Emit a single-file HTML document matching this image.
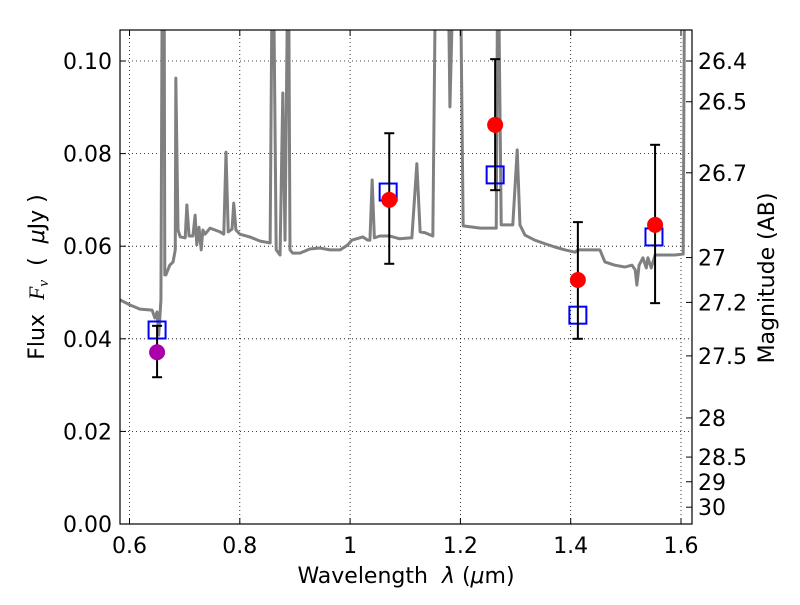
<!DOCTYPE html>
<html><head><meta charset="utf-8"><style>
body{margin:0;background:#fff}
svg text{font-family:"DejaVu Sans","Liberation Sans",sans-serif;fill:#000;white-space:pre}
</style></head><body>
<svg id="chart" width="800" height="600" viewBox="0 0 800 600">
<rect width="800" height="600" fill="#fff"/>
<g id="grid"></g>
<g id="spec"></g>
<g id="marks"></g>
<g id="axes"></g>
</svg>
<script>
const xTicks=[0.6,0.8,1.0,1.2,1.4,1.6];
const xTickLabels=["0.6","0.8","1","1.2","1.4","1.6"];
const yTicks=[0,0.02,0.04,0.06,0.08,0.10];
const yTickLabels=["0.00","0.02","0.04","0.06","0.08","0.10"];
const magTicks=[26.4,26.5,26.7,27,27.2,27.5,28,28.5,29,30];
const magLabels=["26.4","26.5","26.7","27","27.2","27.5","28","28.5","29","30"];
const specWave=[0.583,0.601,0.619,0.641,0.646,0.650,0.653,0.657,0.659,0.663,0.664,0.666,0.673,0.679,0.683,0.684,0.688,0.692,0.701,0.704,0.708,0.715,0.719,0.722,0.726,0.730,0.733,0.737,0.746,0.764,0.771,0.775,0.779,0.786,0.789,0.793,0.800,0.818,0.837,0.855,0.858,0.862,0.866,0.873,0.878,0.882,0.886,0.889,0.891,0.896,0.909,0.927,0.945,0.964,0.982,0.996,1.003,1.023,1.032,1.036,1.040,1.044,1.054,1.072,1.090,1.109,1.112,1.121,1.127,1.136,1.150,1.154,1.179,1.181,1.185,1.201,1.205,1.236,1.265,1.267,1.270,1.274,1.295,1.303,1.308,1.317,1.335,1.354,1.372,1.390,1.408,1.413,1.435,1.453,1.462,1.480,1.498,1.511,1.517,1.520,1.524,1.531,1.537,1.540,1.546,1.553,1.571,1.589,1.604,1.606,1.620];
const specFlux=[0.0484,0.0473,0.0464,0.0462,0.0445,0.0458,0.0408,0.0484,0.109,0.109,0.0538,0.0538,0.0559,0.0566,0.0592,0.0963,0.0635,0.0620,0.0618,0.0689,0.0622,0.0622,0.0667,0.0603,0.0641,0.0592,0.0635,0.0626,0.0639,0.0631,0.0626,0.0803,0.0631,0.0637,0.0693,0.0635,0.0626,0.0620,0.0611,0.0607,0.109,0.109,0.0592,0.0581,0.0931,0.0613,0.109,0.109,0.0592,0.0585,0.0585,0.0594,0.0596,0.0592,0.0592,0.0603,0.0613,0.0620,0.0613,0.0613,0.0743,0.0618,0.0622,0.0622,0.0616,0.0618,0.0618,0.0778,0.0631,0.0629,0.0622,0.109,0.109,0.0901,0.109,0.109,0.0644,0.0639,0.0639,0.109,0.109,0.0646,0.0646,0.0808,0.0646,0.0624,0.0613,0.0605,0.0598,0.0592,0.0587,0.0592,0.0592,0.0592,0.0566,0.0559,0.0555,0.0559,0.0549,0.0516,0.0559,0.0575,0.0553,0.0575,0.0553,0.0581,0.0581,0.0581,0.0583,0.109,0.109];
const modelWave=[0.650,1.069,1.263,1.413,1.551];
const modelFlux=[0.0419,0.0717,0.0754,0.0451,0.0620];
const obsWave=[1.071,1.263,1.413,1.553];
const obsFlux=[0.0700,0.0862,0.0527,0.0646];
const obsHi=[0.0844,0.1004,0.0652,0.0819];
const obsLo=[0.0562,0.0721,0.0400,0.0477];
const extraWave=[0.650];const extraFlux=[0.0371];const extraHi=[0.0428];const extraLo=[0.0317];

const L=120,R=692,T=30,B=524;
const X=v=>129.5+(v-0.6)*551.5;
const Y=v=>524-v*4630;
const magToFlux=m=>Math.pow(10,(23.9-m)/2.5);
const NS="http://www.w3.org/2000/svg";
function mk(p,tag,at){const e=document.createElementNS(NS,tag);for(const k in at)e.setAttribute(k,at[k]);p.appendChild(e);return e;}
const grid=document.getElementById('grid'),spec=document.getElementById('spec'),marks=document.getElementById('marks'),axes=document.getElementById('axes');
xTicks.forEach((t,i)=>{
 const g=mk(grid,'line',{x1:X(t),x2:X(t),y1:T,y2:B,stroke:'#000','stroke-width':0.8,'stroke-dasharray':'1,3'});
 
 mk(axes,'line',{x1:X(t),x2:X(t),y1:B,y2:B-6,stroke:'#000'});
 mk(axes,'line',{x1:X(t),x2:X(t),y1:T,y2:T+6,stroke:'#000'});
 const tx=mk(axes,'text',{x:X(t),y:B+29,'text-anchor':'middle','font-size':22});tx.textContent=xTickLabels[i];
 
});
yTicks.forEach((t,i)=>{
 const g=mk(grid,'line',{x1:L,x2:R,y1:Y(t),y2:Y(t),stroke:'#000','stroke-width':0.8,'stroke-dasharray':'1,3'});
 
 mk(axes,'line',{x1:L,x2:L+6,y1:Y(t),y2:Y(t),stroke:'#000'});
 const tx=mk(axes,'text',{x:L-8,y:Y(t)+8,'text-anchor':'end','font-size':22});tx.textContent=yTickLabels[i];
 
});
magTicks.forEach((m,i)=>{
 const y=Y(magToFlux(m));
 mk(axes,'line',{x1:R-6,x2:R,y1:y,y2:y,stroke:'#000'});
 const tx=mk(axes,'text',{x:R+6,y:y+8,'font-size':22});tx.textContent=magLabels[i];
 
});
mk(spec,'clipPath',{id:'clip'}).appendChild(document.createElementNS(NS,'rect'));
const cr=document.querySelector('#clip rect');cr.setAttribute('x',L);cr.setAttribute('y',T);cr.setAttribute('width',R-L);cr.setAttribute('height',B-T);
const pl=mk(spec,'polyline',{points:specWave.map((w,i)=>X(w)+','+Y(specFlux[i])).join(' '),fill:'none',stroke:'#808080','stroke-width':3,'clip-path':'url(#clip)','stroke-linejoin':'round'});

function ebar(x,hi,lo){
 mk(marks,'line',{x1:X(x),x2:X(x),y1:Y(hi),y2:Y(lo),stroke:'#000','stroke-width':2});
 mk(marks,'line',{x1:X(x)-5,x2:X(x)+5,y1:Y(hi),y2:Y(hi),stroke:'#000','stroke-width':2});
 mk(marks,'line',{x1:X(x)-5,x2:X(x)+5,y1:Y(lo),y2:Y(lo),stroke:'#000','stroke-width':2});
}
modelWave.forEach((w,i)=>{
 const r=mk(marks,'rect',{x:X(w)-8.5,y:Y(modelFlux[i])-8.5,width:17,height:17,fill:'none',stroke:'#0000ff','stroke-width':2});
 
});
obsWave.forEach((w,i)=>{
 ebar(w,obsHi[i],obsLo[i]);
 const c=mk(marks,'circle',{cx:X(w),cy:Y(obsFlux[i]),r:8,fill:'#ff0000'});
 
});
extraWave.forEach((w,i)=>{
 ebar(w,extraHi[i],extraLo[i]);
 const c=mk(marks,'circle',{cx:X(w),cy:Y(extraFlux[i]),r:8,fill:'#aa00aa'});
 
});
const fr=mk(axes,'rect',{x:L,y:T,width:R-L,height:B-T,fill:'none',stroke:'#000','stroke-width':1.2});

</script>
<svg width="800" height="600" style="position:absolute;left:0;top:0">
<text x="406" y="583" text-anchor="middle" font-size="22">Wavelength&#160;&#160;<tspan font-style="italic">λ</tspan> (<tspan font-style="italic">μ</tspan>m)</text>
<text transform="translate(44,277) rotate(-90)" text-anchor="middle" font-size="22">Flux&#160;&#160;<tspan font-style="italic" font-family="Liberation Serif">F<tspan font-size="15" dy="4">ν</tspan></tspan><tspan dy="-4">&#160;&#160;(&#160;&#160;</tspan><tspan font-style="italic">μ</tspan>Jy )</text>
<text transform="translate(774,278) rotate(-90)" text-anchor="middle" font-size="22">Magnitude (AB)</text>
</svg>
</body></html>
